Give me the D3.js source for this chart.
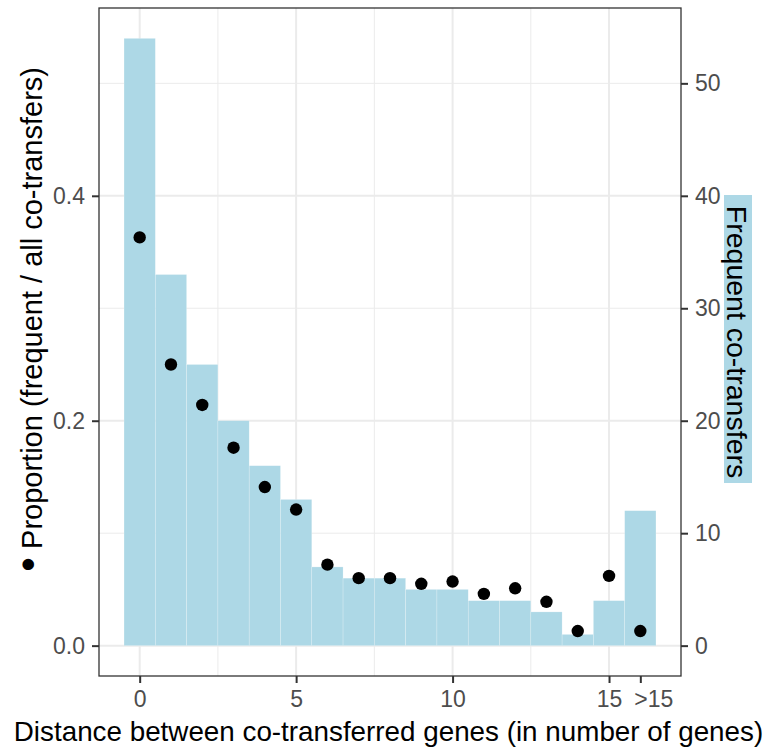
<!DOCTYPE html>
<html>
<head>
<meta charset="utf-8">
<script src="https://cdn.jsdelivr.net/npm/d3@7"></script>
<style>
  body { margin: 0; background: #fff; }
  text { font-family: "Liberation Sans", Arial, sans-serif; }
</style>
</head>
<body>
<div id="chart"></div>
<script>
const distances = [0, 1, 2, 3, 4, 5, 6, 7, 8, 9, 10, 11, 12, 13, 14, 15, 16];
const counts = [54, 33, 25, 20, 16, 13, 7, 6, 6, 5, 5, 4, 4, 3, 1, 4, 12];
const proportions = [0.363, 0.250, 0.214, 0.176, 0.141, 0.121, 0.072, 0.060, 0.060,
  0.055, 0.057, 0.046, 0.051, 0.039, 0.013, 0.062, 0.013];
const xTicks = [0, 5, 10, 15, 16];
const xTickLabels = ['0', '5', '10', '15', '>15'];
const xGrid = [0, 5, 10, 15];
const xMinor = [2.5, 7.5, 12.5];
const yTicks = [0, 0.2, 0.4];
const yMinor = [0.1, 0.3, 0.5];
const countTicks = [0, 10, 20, 30, 40, 50];

const W = 769, H = 749;
const panel = { left: 99, right: 681, top: 8, bottom: 676 };

const svg = d3.select('#chart')
  .append('svg')
  .attr('width', W)
  .attr('height', H);

const x = d3.scaleLinear().domain([-1.3, 17.3]).range([panel.left, panel.right]);
const y = d3.scaleLinear().domain([-0.027, 0.567]).range([panel.bottom, panel.top]);
const yCount = d3.scaleLinear().domain([-2.7, 56.7]).range([panel.bottom, panel.top]);

// grid
const grid = svg.append('g');
grid.selectAll('.gx')
  .data(xGrid.concat(xMinor))
  .enter().append('line')
    .attr('x1', d => x(d)).attr('x2', d => x(d))
    .attr('y1', panel.top).attr('y2', panel.bottom)
    .attr('stroke', '#ebebeb')
    .attr('stroke-width', (d) => xMinor.includes(d) ? 1 : 2);
grid.selectAll('.gy')
  .data(yTicks.concat(yMinor))
  .enter().append('line')
    .attr('y1', d => y(d)).attr('y2', d => y(d))
    .attr('x1', panel.left).attr('x2', panel.right)
    .attr('stroke', '#ebebeb')
    .attr('stroke-width', (d) => yMinor.includes(d) ? 1 : 2);

// bars (counts on right axis)
svg.append('g').selectAll('rect')
  .data(distances)
  .enter().append('rect')
    .attr('x', d => x(d - 0.5))
    .attr('width', x(1) - x(0))
    .attr('y', (d, i) => yCount(counts[i]))
    .attr('height', (d, i) => yCount(0) - yCount(counts[i]))
    .attr('fill', '#add8e6')
    .attr('stroke', 'rgba(255,255,255,0.35)')
    .attr('stroke-width', 0.6);

// points
svg.append('g').selectAll('circle')
  .data(distances)
  .enter().append('circle')
    .attr('cx', d => x(d))
    .attr('cy', (d, i) => y(proportions[i]))
    .attr('r', 6.2)
    .attr('fill', '#000');

// panel border
svg.append('rect')
  .attr('x', panel.left).attr('y', panel.top)
  .attr('width', panel.right - panel.left)
  .attr('height', panel.bottom - panel.top)
  .attr('fill', 'none')
  .attr('stroke', '#333')
  .attr('stroke-width', 1.3);

// axes
const tickStyle = g => {
  g.select('.domain').remove();
  g.selectAll('.tick line').attr('stroke', '#333').attr('stroke-width', 2);
  g.selectAll('.tick text')
    .attr('fill', '#4d4d4d')
    .style('font-size', '23px')
    .style('font-family', '"Liberation Sans", Arial, sans-serif');
};

svg.append('g')
  .attr('transform', `translate(0,${panel.bottom})`)
  .call(d3.axisBottom(x).tickValues(xTicks)
    .tickFormat((d, i) => xTickLabels[i]).tickSize(7).tickPadding(8))
  .call(tickStyle)
  .selectAll('.tick text')
    .attr('dx', d => d === 16 ? 13 : 0);

svg.append('g')
  .attr('transform', `translate(${panel.left},0)`)
  .call(d3.axisLeft(y).tickValues(yTicks).tickFormat(d3.format('.1f')).tickSize(7).tickPadding(7))
  .call(tickStyle);

svg.append('g')
  .attr('transform', `translate(${panel.right},0)`)
  .call(d3.axisRight(yCount).tickValues(countTicks).tickSize(7).tickPadding(7))
  .call(tickStyle);

// titles
svg.append('text')
  .attr('x', (15 + 762) / 2)
  .attr('y', 741)
  .attr('text-anchor', 'middle')
  .style('font-size', '27.8px')
  .attr('fill', '#000')
  .text('Distance between co-transferred genes (in number of genes)');

const yTitle = svg.append('text')
  .attr('transform', 'translate(42,67) rotate(-90)')
  .attr('text-anchor', 'end')
  .style('font-size', '29px')
  .attr('fill', '#000');
yTitle.append('tspan').style('font-size', '42px').text('\u2022');
yTitle.append('tspan').text(' Proportion (frequent / all co-transfers)');

svg.append('rect')
  .attr('x', 724).attr('y', 195)
  .attr('width', 28).attr('height', 288)
  .attr('fill', '#add8e6');

svg.append('text')
  .attr('transform', 'translate(727,342) rotate(90)')
  .attr('text-anchor', 'middle')
  .style('font-size', '28.5px')
  .attr('fill', '#000')
  .text('Frequent co-transfers');
</script>
</body>
</html>
